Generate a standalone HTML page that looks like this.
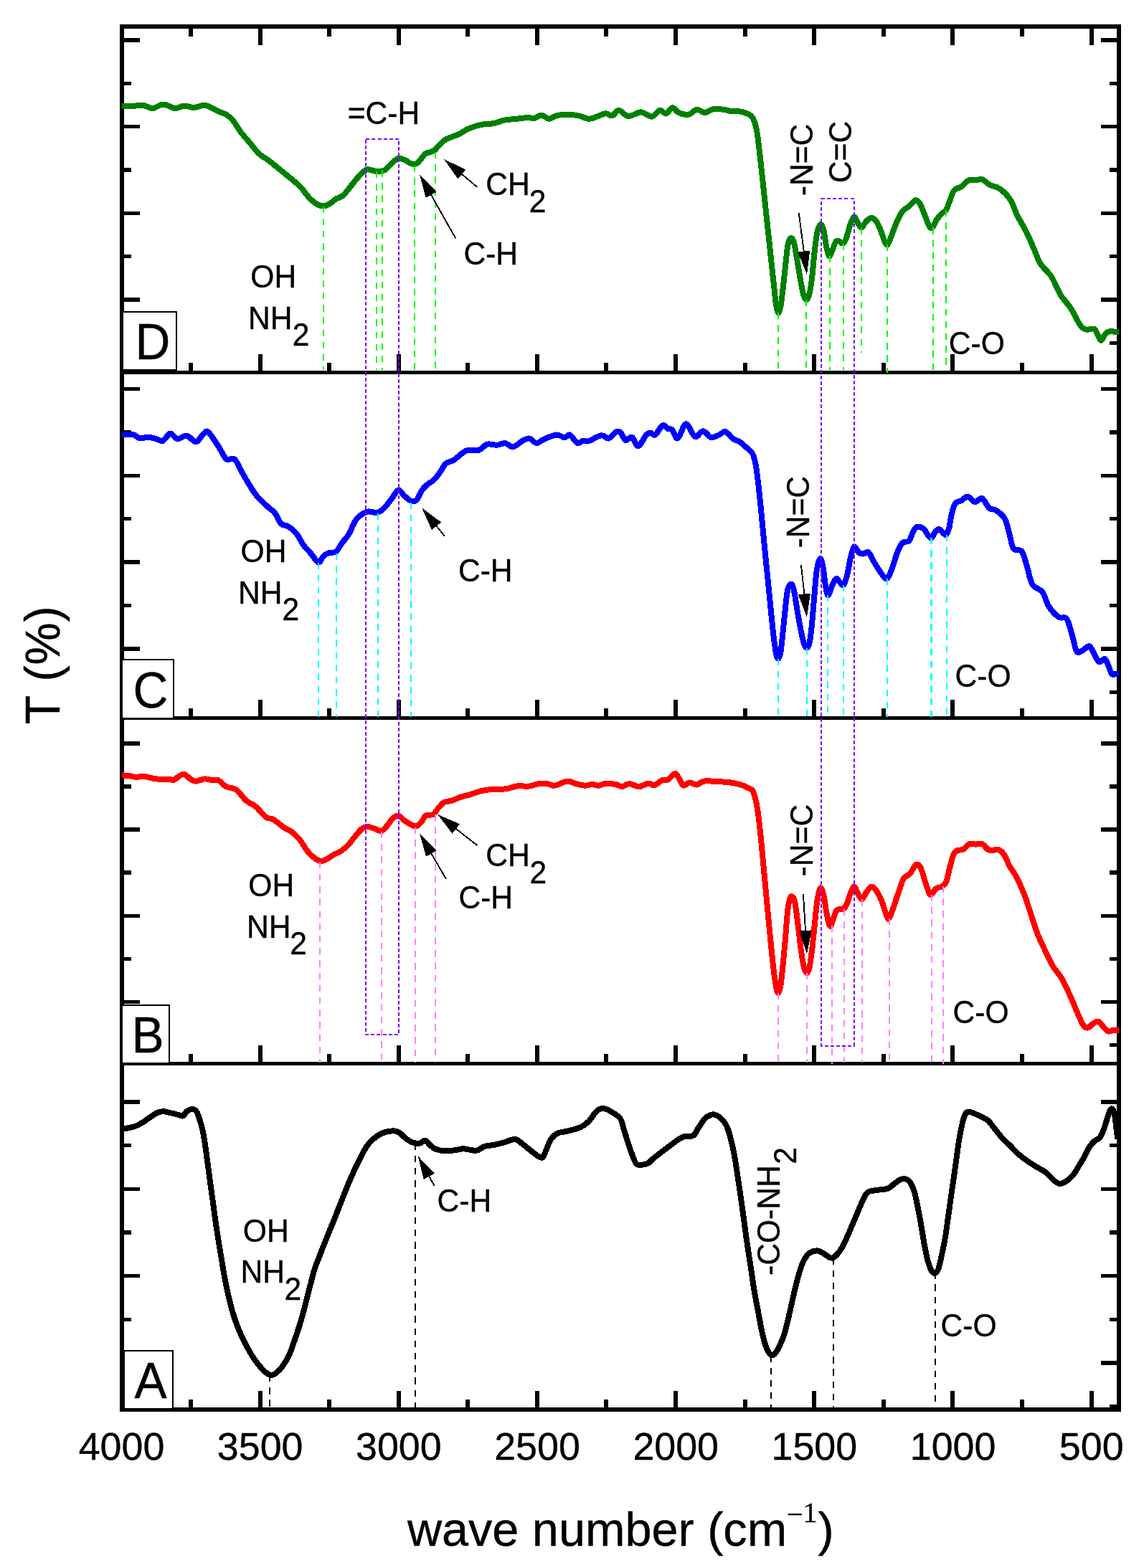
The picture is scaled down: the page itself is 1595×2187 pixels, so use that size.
<!DOCTYPE html>
<html lang="en"><head><meta charset="utf-8"><title>FTIR spectra</title>
<style>html,body{margin:0;padding:0;background:#fff}body{width:1595px;height:2187px;overflow:hidden}svg{display:block}text{font-family:"Liberation Sans",sans-serif;fill:#000}.serif{font-family:"Liberation Serif",serif}</style>
</head><body>
<svg width="1595" height="2187" viewBox="0 0 1595 2187" shape-rendering="crispEdges" role="img" aria-label="FTIR transmittance spectra, panels A to D">
<rect width="1595" height="2187" fill="#fff"/>
<g fill="#000">
<rect x="173" y="53" width="22" height="6"/>
<rect x="1535" y="53" width="22" height="6"/>
<rect x="173" y="114" width="10" height="5"/>
<rect x="1547" y="114" width="10" height="5"/>
<rect x="173" y="174" width="22" height="5"/>
<rect x="1535" y="174" width="22" height="5"/>
<rect x="173" y="234" width="10" height="6"/>
<rect x="1547" y="234" width="10" height="6"/>
<rect x="173" y="295" width="22" height="5"/>
<rect x="1535" y="295" width="22" height="5"/>
<rect x="173" y="355" width="10" height="5"/>
<rect x="1547" y="355" width="10" height="5"/>
<rect x="173" y="415" width="22" height="6"/>
<rect x="1535" y="415" width="22" height="6"/>
<rect x="173" y="476" width="10" height="5"/>
<rect x="1547" y="476" width="10" height="5"/>
<rect x="173" y="540" width="22" height="5"/>
<rect x="1535" y="540" width="22" height="5"/>
<rect x="173" y="600" width="10" height="6"/>
<rect x="1547" y="600" width="10" height="6"/>
<rect x="173" y="661" width="22" height="5"/>
<rect x="1535" y="661" width="22" height="5"/>
<rect x="173" y="721" width="10" height="5"/>
<rect x="1547" y="721" width="10" height="5"/>
<rect x="173" y="781" width="22" height="6"/>
<rect x="1535" y="781" width="22" height="6"/>
<rect x="173" y="842" width="10" height="5"/>
<rect x="1547" y="842" width="10" height="5"/>
<rect x="173" y="902" width="22" height="6"/>
<rect x="1535" y="902" width="22" height="6"/>
<rect x="173" y="963" width="10" height="5"/>
<rect x="1547" y="963" width="10" height="5"/>
<rect x="173" y="1034" width="22" height="6"/>
<rect x="1535" y="1034" width="22" height="6"/>
<rect x="173" y="1094" width="10" height="6"/>
<rect x="1547" y="1094" width="10" height="6"/>
<rect x="173" y="1154" width="22" height="6"/>
<rect x="1535" y="1154" width="22" height="6"/>
<rect x="173" y="1214" width="10" height="6"/>
<rect x="1547" y="1214" width="10" height="6"/>
<rect x="173" y="1275" width="22" height="5"/>
<rect x="1535" y="1275" width="22" height="5"/>
<rect x="173" y="1335" width="10" height="5"/>
<rect x="1547" y="1335" width="10" height="5"/>
<rect x="173" y="1395" width="22" height="5"/>
<rect x="1535" y="1395" width="22" height="5"/>
<rect x="173" y="1455" width="10" height="5"/>
<rect x="1547" y="1455" width="10" height="5"/>
<rect x="173" y="1534" width="22" height="6"/>
<rect x="1535" y="1534" width="22" height="6"/>
<rect x="173" y="1595" width="10" height="5"/>
<rect x="1547" y="1595" width="10" height="5"/>
<rect x="173" y="1656" width="22" height="5"/>
<rect x="1535" y="1656" width="22" height="5"/>
<rect x="173" y="1716" width="10" height="6"/>
<rect x="1547" y="1716" width="10" height="6"/>
<rect x="173" y="1777" width="22" height="5"/>
<rect x="1535" y="1777" width="22" height="5"/>
<rect x="173" y="1838" width="10" height="5"/>
<rect x="1547" y="1838" width="10" height="5"/>
<rect x="173" y="1898" width="22" height="6"/>
<rect x="1535" y="1898" width="22" height="6"/>
<rect x="173" y="1959" width="10" height="6"/>
<rect x="1547" y="1959" width="10" height="6"/>
<rect x="263" y="506" width="6" height="13"/>
<rect x="360" y="494" width="6" height="25"/>
<rect x="456" y="506" width="6" height="13"/>
<rect x="553" y="494" width="6" height="25"/>
<rect x="649" y="506" width="6" height="13"/>
<rect x="746" y="494" width="6" height="25"/>
<rect x="842" y="506" width="6" height="13"/>
<rect x="939" y="494" width="6" height="25"/>
<rect x="1036" y="506" width="6" height="13"/>
<rect x="1132" y="494" width="6" height="25"/>
<rect x="1229" y="506" width="6" height="13"/>
<rect x="1325" y="494" width="6" height="25"/>
<rect x="1422" y="506" width="6" height="13"/>
<rect x="1519" y="494" width="6" height="25"/>
<rect x="263" y="988" width="6" height="13"/>
<rect x="360" y="976" width="6" height="25"/>
<rect x="456" y="988" width="6" height="13"/>
<rect x="553" y="976" width="6" height="25"/>
<rect x="649" y="988" width="6" height="13"/>
<rect x="746" y="976" width="6" height="25"/>
<rect x="842" y="988" width="6" height="13"/>
<rect x="939" y="976" width="6" height="25"/>
<rect x="1036" y="988" width="6" height="13"/>
<rect x="1132" y="976" width="6" height="25"/>
<rect x="1229" y="988" width="6" height="13"/>
<rect x="1325" y="976" width="6" height="25"/>
<rect x="1422" y="988" width="6" height="13"/>
<rect x="1519" y="976" width="6" height="25"/>
<rect x="263" y="1470" width="6" height="13"/>
<rect x="360" y="1458" width="6" height="25"/>
<rect x="456" y="1470" width="6" height="13"/>
<rect x="553" y="1458" width="6" height="25"/>
<rect x="649" y="1470" width="6" height="13"/>
<rect x="746" y="1458" width="6" height="25"/>
<rect x="842" y="1470" width="6" height="13"/>
<rect x="939" y="1458" width="6" height="25"/>
<rect x="1036" y="1470" width="6" height="13"/>
<rect x="1132" y="1458" width="6" height="25"/>
<rect x="1229" y="1470" width="6" height="13"/>
<rect x="1325" y="1458" width="6" height="25"/>
<rect x="1422" y="1470" width="6" height="13"/>
<rect x="1519" y="1458" width="6" height="25"/>
<rect x="263" y="1952" width="6" height="13"/>
<rect x="360" y="1940" width="6" height="25"/>
<rect x="456" y="1952" width="6" height="13"/>
<rect x="553" y="1940" width="6" height="25"/>
<rect x="649" y="1952" width="6" height="13"/>
<rect x="746" y="1940" width="6" height="25"/>
<rect x="842" y="1952" width="6" height="13"/>
<rect x="939" y="1940" width="6" height="25"/>
<rect x="1036" y="1952" width="6" height="13"/>
<rect x="1132" y="1940" width="6" height="25"/>
<rect x="1229" y="1952" width="6" height="13"/>
<rect x="1325" y="1940" width="6" height="25"/>
<rect x="1422" y="1952" width="6" height="13"/>
<rect x="1519" y="1940" width="6" height="25"/>
<rect x="263" y="38" width="6" height="13"/>
<rect x="360" y="38" width="6" height="25"/>
<rect x="456" y="38" width="6" height="13"/>
<rect x="553" y="38" width="6" height="25"/>
<rect x="649" y="38" width="6" height="13"/>
<rect x="746" y="38" width="6" height="25"/>
<rect x="842" y="38" width="6" height="13"/>
<rect x="939" y="38" width="6" height="25"/>
<rect x="1036" y="38" width="6" height="13"/>
<rect x="1132" y="38" width="6" height="25"/>
<rect x="1229" y="38" width="6" height="13"/>
<rect x="1325" y="38" width="6" height="25"/>
<rect x="1422" y="38" width="6" height="13"/>
<rect x="1519" y="38" width="6" height="25"/>
</g>
<g fill="#000">
<rect x="167" y="34" width="6" height="1935"/>
<rect x="1557" y="34" width="6" height="1935"/>
<rect x="167" y="34" width="1396" height="6"/>
<rect x="167" y="1963" width="1396" height="6"/>
<rect x="167" y="517" width="1396" height="5"/>
<rect x="167" y="999" width="1396" height="5"/>
<rect x="167" y="1481" width="1396" height="5"/>
</g>
<g fill="#fff" stroke="#000" stroke-width="1.9">
<rect x="170.95" y="435.05" width="75.06" height="80.9"/>
<rect x="169.85" y="919.75" width="72.1" height="82.2"/>
<rect x="169.95" y="1401.95" width="65.97" height="81.1"/>
<rect x="172.95" y="1883.95" width="67.97" height="81.1"/>
</g>
<rect x="167" y="34" width="4" height="1935" fill="#000"/>
<g fill="none" stroke-linejoin="round" stroke-linecap="butt" stroke-width="8">
<path d="M170 148.1C172.52 148.1 180.28 148.35 185.1 148.1C189.92 147.85 194.3 146.1 198.9 146.6C203.5 147.1 207.9 151.28 212.7 151.1C217.5 150.92 222.48 145.5 227.7 145.5C232.92 145.5 239.18 150.75 244 151.1C248.82 151.45 252.22 147.77 256.6 147.6C260.98 147.43 265.92 150.18 270.3 150.1C274.68 150.02 279.55 147.43 282.9 147.1C286.25 146.77 287.07 146.85 290.4 148.1C293.73 149.35 298.52 152.52 302.9 154.6C307.28 156.68 312.93 158.22 316.7 160.6C320.47 162.98 322.37 165.02 325.5 168.9C328.63 172.78 331.73 178.88 335.5 183.9C339.27 188.92 343.92 193.98 348.1 199C352.28 204.02 356.42 210.03 360.6 214C364.78 217.97 369.02 219.67 373.2 222.8C377.38 225.93 381.53 229.45 385.7 232.8C389.87 236.15 394.02 239.47 398.2 242.9C402.38 246.33 407.03 250.07 410.8 253.4C414.57 256.73 417.47 259.22 420.8 262.9C424.13 266.58 427.45 271.95 430.8 275.5C434.15 279.05 437.55 282.2 440.9 284.2C444.25 286.2 447.77 287.5 450.9 287.5C454.03 287.5 456.77 285.87 459.7 284.2C462.63 282.53 465.37 279.47 468.5 277.5C471.63 275.53 475.17 275.25 478.5 272.4C481.83 269.55 485.15 264.48 488.5 260.4C491.85 256.32 495.05 251.75 498.6 247.9C502.15 244.05 506.88 239.15 509.8 237.3C512.72 235.45 513.38 236.47 516.1 236.8C518.82 237.13 522.75 239.22 526.1 239.3C529.45 239.38 532.85 239.22 536.2 237.3C539.55 235.38 542.98 230.53 546.2 227.8C549.42 225.07 552.28 221.57 555.5 220.9C558.72 220.23 562.92 222.73 565.5 223.8C568.08 224.87 569.15 226.43 571 227.3C572.85 228.17 574.75 229 576.6 229C578.45 229 580.27 228.63 582.1 227.3C583.93 225.97 585.77 223.17 587.6 221C589.43 218.83 591.03 215.8 593.1 214.3C595.17 212.8 597.93 212.72 600 212C602.07 211.28 603.67 211.37 605.5 210C607.33 208.63 609.15 205.75 611 203.8C612.85 201.85 614.75 199.92 616.6 198.3C618.45 196.68 619.58 195.43 622.1 194.1C624.62 192.77 628.55 191.57 631.7 190.3C634.85 189.03 637.47 188.27 641 186.5C644.53 184.73 648 181.78 652.9 179.7C657.8 177.62 664.55 175.25 670.4 174C676.25 172.75 682.57 173.25 688 172.2C693.43 171.15 697.57 168.78 703 167.7C708.43 166.62 715.17 166.28 720.6 165.7C726.03 165.12 731.43 164.37 735.6 164.2C739.77 164.03 742.33 165.28 745.6 164.7C748.87 164.12 751.85 160.53 755.2 160.7C758.55 160.87 761.87 165.7 765.7 165.7C769.53 165.7 771.93 161.53 778.2 160.7C784.47 159.87 796.18 159.87 803.3 160.7C810.42 161.53 815.88 165.45 820.9 165.7C825.92 165.95 829.43 163.45 833.4 162.2C837.37 160.95 841.35 158.33 844.7 158.2C848.05 158.07 850.45 162.12 853.5 161.4C856.55 160.68 859.23 153.77 863 153.9C866.77 154.03 871 161.78 876.1 162.2C881.2 162.62 888.17 156.32 893.6 156.4C899.03 156.48 904.32 163.12 908.7 162.7C913.08 162.28 916.57 154.6 919.9 153.9C923.23 153.2 925.75 159.12 928.7 158.5C931.65 157.88 934.65 150.42 937.6 150.2C940.55 149.98 942.63 155.62 946.4 157.2C950.17 158.78 956.02 160.45 960.2 159.7C964.38 158.95 967.73 153.12 971.5 152.7C975.27 152.28 979.05 157.28 982.8 157.2C986.55 157.12 989.83 152.95 994 152.2C998.17 151.45 1003.82 152.28 1007.8 152.7C1011.78 153.12 1014.13 154.28 1017.9 154.7C1021.67 155.12 1026.23 154.5 1030.4 155.2C1034.57 155.9 1039.77 157.45 1042.9 158.9C1046.03 160.35 1047.43 161.18 1049.2 163.9C1050.97 166.62 1052.25 170.38 1053.5 175.2C1054.75 180.02 1055.53 184.43 1056.7 192.8C1057.87 201.17 1059.23 214.12 1060.5 225.4C1061.77 236.68 1063.05 248.8 1064.3 260.5C1065.55 272.2 1066.75 283.9 1068 295.6C1069.25 307.3 1070.55 319 1071.8 330.7C1073.05 342.4 1074.25 354.1 1075.5 365.8C1076.75 377.5 1078.25 391.28 1079.3 400.9C1080.35 410.52 1080.83 417.63 1081.8 423.5C1082.77 429.37 1083.97 435.68 1085.1 436.1C1086.23 436.52 1087.48 431.87 1088.6 426C1089.72 420.13 1090.63 410.93 1091.8 400.9C1092.97 390.87 1094.47 375.82 1095.6 365.8C1096.73 355.78 1097.43 346.43 1098.6 340.8C1099.77 335.17 1101.22 332.43 1102.6 332C1103.98 331.57 1105.55 333.82 1106.9 338.2C1108.25 342.58 1109.23 349.93 1110.7 358.3C1112.17 366.67 1114.12 379.62 1115.7 388.4C1117.28 397.18 1118.82 406.07 1120.2 411C1121.58 415.93 1122.67 418 1124 418C1125.33 418 1126.87 415.93 1128.2 411C1129.53 406.07 1130.75 398.43 1132 388.4C1133.25 378.37 1134.45 361.67 1135.7 350.8C1136.95 339.93 1138.15 329.47 1139.5 323.2C1140.85 316.93 1142.33 313.62 1143.8 313.2C1145.27 312.78 1146.93 315.68 1148.3 320.7C1149.67 325.72 1150.67 337.23 1152 343.3C1153.33 349.37 1154.83 356.27 1156.3 357.1C1157.77 357.93 1159.42 351.45 1160.8 348.3C1162.18 345.15 1163.27 340.3 1164.6 338.2C1165.93 336.1 1167.13 335.48 1168.8 335.7C1170.47 335.92 1172.8 339.92 1174.6 339.5C1176.4 339.08 1177.93 337.17 1179.6 333.2C1181.27 329.23 1182.8 320.8 1184.6 315.7C1186.4 310.6 1188.52 303.43 1190.4 302.6C1192.28 301.77 1194.15 308.18 1195.9 310.7C1197.65 313.22 1199.02 317.92 1200.9 317.7C1202.78 317.48 1204.9 311.75 1207.2 309.4C1209.5 307.05 1212.18 303.6 1214.7 303.6C1217.22 303.6 1220 306.13 1222.3 309.4C1224.6 312.67 1226.63 318.6 1228.5 323.2C1230.37 327.8 1232.03 333.98 1233.5 337C1234.97 340.02 1235.83 342.35 1237.3 341.3C1238.77 340.25 1240.22 335.8 1242.3 330.7C1244.38 325.6 1247.08 316.75 1249.8 310.7C1252.52 304.65 1255.65 298.25 1258.6 294.4C1261.55 290.55 1264.57 290.12 1267.5 287.6C1270.43 285.08 1273.68 279.87 1276.2 279.3C1278.72 278.73 1280.38 280.68 1282.6 284.2C1284.82 287.72 1287.35 295.18 1289.5 300.4C1291.65 305.62 1293.78 312.67 1295.5 315.5C1297.22 318.33 1297.95 319.08 1299.8 317.4C1301.65 315.72 1304.42 308.65 1306.6 305.4C1308.78 302.15 1310.82 299.98 1312.9 297.9C1314.98 295.82 1317.22 295.83 1319.1 292.9C1320.98 289.97 1322.32 284.9 1324.2 280.3C1326.08 275.7 1327.68 268.63 1330.4 265.3C1333.12 261.97 1337.15 262.6 1340.5 260.3C1343.85 258 1347.17 252.97 1350.5 251.5C1353.83 250.03 1357.37 251.72 1360.5 251.5C1363.63 251.28 1365.95 249.08 1369.3 250.2C1372.65 251.32 1376.63 256.1 1380.6 258.2C1384.57 260.3 1388.5 259.53 1393.1 262.8C1397.7 266.07 1404.02 271.53 1408.2 277.8C1412.38 284.07 1414.45 292.88 1418.2 300.4C1421.95 307.92 1426.93 315.38 1430.7 322.9C1434.47 330.42 1437.45 337.97 1440.8 345.5C1444.15 353.03 1446.63 361.42 1450.8 368.1C1454.97 374.78 1461.2 378.5 1465.8 385.6C1470.4 392.7 1473.8 403.17 1478.4 410.7C1483 418.23 1488.8 423.68 1493.4 430.8C1498 437.92 1502.45 448.6 1506 453.4C1509.55 458.2 1511.37 458.68 1514.7 459.6C1518.03 460.52 1523.28 457.43 1526 458.9C1528.72 460.37 1529.4 465.77 1531 468.4C1532.6 471.03 1533.92 475.12 1535.6 474.7C1537.28 474.28 1539.13 468 1541.1 465.9C1543.07 463.8 1545.25 462.62 1547.4 462.1C1549.55 461.58 1551.9 462.67 1554 462.8C1556.1 462.93 1559 462.88 1560 462.9" stroke="#008000"/>
<path d="M170 606.4C172.52 606.32 180.92 605.07 185.1 605.9C189.28 606.73 191.55 610.77 195.1 611.4C198.65 612.03 202.63 609.57 206.4 609.7C210.17 609.83 214.35 611.28 217.7 612.2C221.05 613.12 224 615.75 226.5 615.2C229 614.65 230.75 610.67 232.7 608.9C234.65 607.13 235.68 604.05 238.2 604.6C240.72 605.15 244.12 611.7 247.8 612.2C251.48 612.7 256.12 606.9 260.3 607.6C264.48 608.3 269.35 616.4 272.9 616.4C276.45 616.4 279.02 610.1 281.6 607.6C284.18 605.1 286.1 601.18 288.4 601.4C290.7 601.62 292.55 605.13 295.4 608.9C298.25 612.67 302.15 618.77 305.5 624C308.85 629.23 311.95 637.58 315.5 640.3C319.05 643.02 323.47 637.8 326.8 640.3C330.13 642.8 332.37 649.87 335.5 655.3C338.63 660.73 341.83 666.83 345.6 672.9C349.37 678.97 353.5 686.07 358.1 691.7C362.7 697.33 369.02 702.73 373.2 706.7C377.38 710.67 380.07 711.53 383.2 715.5C386.33 719.47 388.87 727.37 392 730.5C395.13 733.63 398.45 732 402 734.3C405.55 736.6 409.75 739.92 413.3 744.3C416.85 748.68 419.95 756 423.3 760.6C426.65 765.2 429.97 767.92 433.4 771.9C436.83 775.88 440.98 783.87 443.9 784.5C446.82 785.13 448.48 777.92 450.9 775.7C453.32 773.48 455.47 772.25 458.4 771.2C461.33 770.15 465.37 771.78 468.5 769.4C471.63 767.02 474.28 760.87 477.2 756.9C480.12 752.93 482.87 750.83 486 745.6C489.13 740.37 493.07 730.1 496 725.5C498.93 720.9 500.67 720 503.6 718C506.53 716 509.85 714 513.6 713.5C517.35 713 522.33 715.92 526.1 715C529.87 714.08 532.85 711.27 536.2 708C539.55 704.73 542.98 699.5 546.2 695.4C549.42 691.3 552.57 684.02 555.5 683.4C558.43 682.78 560.73 689.07 563.8 691.7C566.87 694.33 570.97 698.37 573.9 699.2C576.83 700.03 578.9 699.4 581.4 696.7C583.9 694 586.4 686.55 588.9 683C591.4 679.45 593.68 677.7 596.4 675.4C599.12 673.1 602.27 672.12 605.2 669.2C608.13 666.28 611.28 661.67 614 657.9C616.72 654.13 618.37 649.32 621.5 646.6C624.63 643.88 628.83 644.12 632.8 641.6C636.77 639.08 641.95 633.8 645.3 631.5C648.65 629.2 649.13 628.42 652.9 627.8C656.67 627.18 663.52 629.15 667.9 627.8C672.28 626.45 675.02 620.88 679.2 619.7C683.38 618.52 688.82 620.95 693 620.7C697.18 620.45 700.55 617.77 704.3 618.2C708.05 618.63 711.53 623.8 715.5 623.3C719.47 622.8 724.33 617.17 728.1 615.2C731.87 613.23 734.75 611 738.1 611.5C741.45 612 744.85 618 748.2 618.2C751.55 618.4 753.62 614.65 758.2 612.7C762.78 610.75 770.9 606.92 775.7 606.5C780.5 606.08 783.87 610.2 787 610.2C790.13 610.2 791.57 605.25 794.5 606.5C797.43 607.75 801.45 616.33 804.6 617.7C807.75 619.07 810.68 615.12 813.4 614.7C816.12 614.28 816.73 616.45 820.9 615.2C825.07 613.95 833.8 607.82 838.4 607.2C843 606.58 845.15 612.25 848.5 611.5C851.85 610.75 855.78 604.17 858.5 602.7C861.22 601.23 862.5 600.82 864.8 602.7C867.1 604.58 869.58 612.83 872.3 614C875.02 615.17 878.18 608.32 881.1 609.7C884.02 611.08 886.47 622.83 889.8 622.3C893.13 621.77 898.17 609.57 901.1 606.5C904.03 603.43 905.3 603.9 907.4 603.9C909.5 603.9 910.97 608.27 913.7 606.5C916.43 604.73 920.88 594.68 923.8 593.3C926.72 591.92 929 597.2 931.2 598.2C933.4 599.2 934.68 597.1 937 599.3C939.32 601.5 941.87 612.73 945.1 611.4C948.33 610.07 952.42 591.72 956.4 591.3C960.38 590.88 965.02 607.23 969 608.9C972.98 610.57 976.55 601.1 980.3 601.3C984.05 601.5 987.75 609.25 991.5 610.1C995.25 610.95 999.45 607.73 1002.8 606.4C1006.15 605.07 1008.25 601.07 1011.6 602.1C1014.95 603.13 1019.77 610.35 1022.9 612.6C1026.03 614.85 1027.48 613.72 1030.4 615.6C1033.32 617.48 1037.27 621.05 1040.4 623.9C1043.53 626.75 1047.02 628.73 1049.2 632.7C1051.38 636.67 1052.25 641.43 1053.5 647.7C1054.75 653.97 1055.53 660.68 1056.7 670.3C1057.87 679.92 1059.23 692.87 1060.5 705.4C1061.77 717.93 1063.05 732.53 1064.3 745.5C1065.55 758.47 1066.75 770.65 1068 783.2C1069.25 795.75 1070.55 808.27 1071.8 820.8C1073.05 833.33 1074.25 846.28 1075.5 858.4C1076.75 870.52 1078.12 884.3 1079.3 893.5C1080.48 902.7 1081.63 909.42 1082.6 913.6C1083.57 917.78 1084.18 919.02 1085.1 918.6C1086.02 918.18 1087.1 916.53 1088.1 911.1C1089.1 905.67 1090.05 895.62 1091.1 886C1092.15 876.38 1093.23 863.85 1094.4 853.4C1095.57 842.95 1096.73 829.78 1098.1 823.3C1099.47 816.82 1101.13 814.5 1102.6 814.5C1104.07 814.5 1105.35 816.82 1106.9 823.3C1108.45 829.78 1110.23 843.78 1111.9 853.4C1113.57 863.02 1115.35 873.48 1116.9 881C1118.45 888.52 1119.85 894.75 1121.2 898.5C1122.55 902.25 1123.75 903.92 1125 903.5C1126.25 903.08 1127.53 901.43 1128.7 896C1129.87 890.57 1130.92 881.35 1132 870.9C1133.08 860.45 1134.08 845.83 1135.2 833.3C1136.32 820.77 1137.35 804.68 1138.7 795.7C1140.05 786.72 1141.92 780.65 1143.3 779.4C1144.68 778.15 1145.75 782.13 1147 788.2C1148.25 794.27 1149.55 808.78 1150.8 815.8C1152.05 822.82 1153.03 829.88 1154.5 830.3C1155.97 830.72 1157.72 822.18 1159.6 818.3C1161.48 814.42 1163.93 808.05 1165.8 807C1167.67 805.95 1169.12 810.53 1170.8 812C1172.48 813.47 1174.22 817.27 1175.9 815.8C1177.58 814.33 1179.23 809.47 1180.9 803.2C1182.57 796.93 1184.23 784.97 1185.9 778.2C1187.57 771.43 1189.02 763.87 1190.9 762.6C1192.78 761.33 1195.12 768.93 1197.2 770.6C1199.28 772.27 1201.1 772.6 1203.4 772.6C1205.7 772.6 1208.28 768.42 1211 770.6C1213.72 772.78 1216.78 780.88 1219.7 785.7C1222.62 790.52 1225.68 795.95 1228.5 799.5C1231.32 803.05 1234.08 808.05 1236.6 807C1239.12 805.95 1241.18 799.27 1243.6 793.2C1246.02 787.13 1248.6 776.67 1251.1 770.6C1253.6 764.53 1255.88 759.52 1258.6 756.8C1261.32 754.08 1264.88 757.02 1267.4 754.3C1269.92 751.58 1271.77 743.77 1273.7 740.5C1275.63 737.23 1276.65 735.17 1279 734.7C1281.35 734.23 1284.67 735.02 1287.8 737.7C1290.93 740.38 1295.08 750.17 1297.8 750.8C1300.52 751.43 1302.08 743.6 1304.1 741.5C1306.12 739.4 1307.6 737.48 1309.9 738.2C1312.2 738.92 1315.73 745.88 1317.9 745.8C1320.07 745.72 1321.43 742.38 1322.9 737.7C1324.37 733.02 1325.23 723.55 1326.7 717.7C1328.17 711.85 1329.4 705.87 1331.7 702.6C1334 699.33 1337.58 699.77 1340.5 698.1C1343.42 696.43 1346.07 692.27 1349.2 692.6C1352.33 692.93 1355.95 699.68 1359.3 700.1C1362.65 700.52 1365.97 693.63 1369.3 695.1C1372.63 696.57 1376.17 706.18 1379.3 708.9C1382.43 711.62 1384.55 709.1 1388.1 711.4C1391.65 713.7 1397.47 717.47 1400.6 722.7C1403.73 727.93 1404.8 735.7 1406.9 742.8C1409 749.9 1410.27 760.92 1413.2 765.3C1416.13 769.68 1421.37 764.92 1424.5 769.1C1427.63 773.28 1429.5 782.67 1432 790.4C1434.5 798.13 1435.95 809.65 1439.5 815.5C1443.05 821.35 1449.53 820.48 1453.3 825.5C1457.07 830.52 1458.33 839.75 1462.1 845.6C1465.87 851.45 1471.72 857.68 1475.9 860.6C1480.08 863.52 1484.07 858.92 1487.2 863.1C1490.33 867.28 1492.4 878.17 1494.7 885.7C1497 893.23 1498.7 904.62 1501 908.3C1503.3 911.98 1505.58 908.97 1508.5 907.8C1511.42 906.63 1515.78 900.8 1518.5 901.3C1521.22 901.8 1522.5 907.13 1524.8 910.8C1527.1 914.47 1529.58 921.83 1532.3 923.3C1535.02 924.77 1538.17 916.88 1541.1 919.6C1544.03 922.32 1547.58 936.27 1549.9 939.6C1552.22 942.93 1553.32 939.6 1555 939.6C1556.68 939.6 1559.17 939.6 1560 939.6" stroke="#0000ff"/>
<path d="M170 1081.4C171.68 1081.52 176.75 1081.68 180.1 1082.1C183.45 1082.52 186.77 1083.82 190.1 1083.9C193.43 1083.98 196.33 1082.32 200.1 1082.6C203.87 1082.88 208.52 1084.85 212.7 1085.6C216.88 1086.35 221.45 1086.85 225.2 1087.1C228.95 1087.35 232.27 1087.02 235.2 1087.1C238.13 1087.18 240.28 1088.43 242.8 1087.6C245.32 1086.77 247.88 1083.35 250.3 1082.1C252.72 1080.85 254.8 1079.38 257.3 1080.1C259.8 1080.82 262.7 1084.8 265.3 1086.4C267.9 1088 269.55 1089.7 272.9 1089.7C276.25 1089.7 281.65 1086.65 285.4 1086.4C289.15 1086.15 292.27 1087.9 295.4 1088.2C298.53 1088.5 300.85 1086.7 304.2 1088.2C307.55 1089.7 311.32 1095 315.5 1097.2C319.68 1099.4 324.7 1098.18 329.3 1101.4C333.9 1104.62 338.5 1112.52 343.1 1116.5C347.7 1120.48 352.3 1121.42 356.9 1125.3C361.5 1129.18 366.73 1136.88 370.7 1139.8C374.67 1142.72 376.53 1140.42 380.7 1142.8C384.87 1145.18 391.32 1151.17 395.7 1154.1C400.08 1157.03 403.23 1157.47 407 1160.4C410.77 1163.33 414.75 1167.32 418.3 1171.7C421.85 1176.08 424.95 1182.53 428.3 1186.7C431.65 1190.87 435.27 1194.32 438.4 1196.7C441.53 1199.08 444.18 1200.78 447.1 1201C450.02 1201.22 452.75 1199.55 455.9 1198C459.05 1196.45 462.65 1193.58 466 1191.7C469.35 1189.82 472.67 1189 476 1186.7C479.33 1184.4 482.67 1181.45 486 1177.9C489.33 1174.35 492.87 1169.07 496 1165.4C499.13 1161.73 502.07 1157.98 504.8 1155.9C507.53 1153.82 509.68 1152.98 512.4 1152.9C515.12 1152.82 517.97 1154.37 521.1 1155.4C524.23 1156.43 528.27 1159.52 531.2 1159.1C534.13 1158.68 535.98 1155.82 538.7 1152.9C541.42 1149.98 544.7 1144.1 547.5 1141.6C550.3 1139.1 552.57 1137.27 555.5 1137.9C558.43 1138.53 561.2 1142.98 565.1 1145.4C569 1147.82 575.35 1151.98 578.9 1152.4C582.45 1152.82 583.9 1150.4 586.4 1147.9C588.9 1145.4 590.97 1139.4 593.9 1137.4C596.83 1135.4 601.07 1137.7 604 1135.9C606.93 1134.1 609 1129.4 611.5 1126.6C614 1123.8 615.87 1120.77 619 1119.1C622.13 1117.43 626.33 1117.87 630.3 1116.6C634.27 1115.33 638.62 1112.88 642.8 1111.5C646.98 1110.12 650.8 1109.67 655.4 1108.3C660 1106.93 664.97 1104.55 670.4 1103.3C675.83 1102.05 682.15 1101.3 688 1100.8C693.85 1100.3 700.07 1101.02 705.5 1100.3C710.93 1099.58 715.17 1097.13 720.6 1096.5C726.03 1095.87 733.08 1097.05 738.1 1096.5C743.12 1095.95 746.52 1093.75 750.7 1093.2C754.88 1092.65 759.45 1092.78 763.2 1093.2C766.95 1093.62 768.6 1096.28 773.2 1095.7C777.8 1095.12 785.78 1090.12 790.8 1089.7C795.82 1089.28 799.12 1092.2 803.3 1093.2C807.48 1094.2 812.13 1095.57 815.9 1095.7C819.67 1095.83 822.77 1094 825.9 1094C829.03 1094 831.78 1095.83 834.7 1095.7C837.62 1095.57 839.43 1093.48 843.4 1093.2C847.37 1092.92 854.52 1093.33 858.5 1094C862.48 1094.67 864.17 1097.33 867.3 1097.2C870.43 1097.07 873.33 1093.2 877.3 1093.2C881.27 1093.2 886.72 1097.28 891.1 1097.2C895.48 1097.12 900.05 1093.03 903.6 1092.7C907.15 1092.37 909.23 1095.88 912.4 1095.2C915.57 1094.52 919.45 1089.87 922.6 1088.6C925.75 1087.33 928.25 1089.23 931.3 1087.6C934.35 1085.97 938.38 1079.22 940.9 1078.8C943.42 1078.38 944.43 1082.3 946.4 1085.1C948.37 1087.9 950.2 1094.55 952.7 1095.6C955.2 1096.65 958.27 1091.57 961.4 1091.4C964.53 1091.23 968.15 1094.9 971.5 1094.6C974.85 1094.3 976.7 1090.35 981.5 1089.6C986.3 1088.85 994.23 1089.8 1000.3 1090.1C1006.37 1090.4 1012.47 1090.65 1017.9 1091.4C1023.33 1092.15 1028.73 1093.35 1032.9 1094.6C1037.07 1095.85 1040.18 1097.55 1042.9 1098.9C1045.62 1100.25 1047.43 1099.98 1049.2 1102.7C1050.97 1105.42 1052.25 1110.18 1053.5 1115.2C1054.75 1120.22 1055.53 1124.43 1056.7 1132.8C1057.87 1141.17 1059.23 1153.28 1060.5 1165.4C1061.77 1177.52 1063.05 1192.13 1064.3 1205.5C1065.55 1218.87 1066.75 1232.23 1068 1245.6C1069.25 1258.97 1070.55 1272.73 1071.8 1285.7C1073.05 1298.67 1074.25 1311.27 1075.5 1323.4C1076.75 1335.53 1078.12 1349.32 1079.3 1358.5C1080.48 1367.68 1081.63 1374.12 1082.6 1378.5C1083.57 1382.88 1084.18 1385.22 1085.1 1384.8C1086.02 1384.38 1087.1 1381.65 1088.1 1376C1089.1 1370.35 1090.05 1360.93 1091.1 1350.9C1092.15 1340.87 1093.23 1329.17 1094.4 1315.8C1095.57 1302.43 1096.93 1281.15 1098.1 1270.7C1099.27 1260.25 1100.35 1256.45 1101.4 1253.1C1102.45 1249.75 1103.27 1249.77 1104.4 1250.6C1105.53 1251.43 1106.82 1251.4 1108.2 1258.1C1109.58 1264.8 1111.25 1279.5 1112.7 1290.8C1114.15 1302.1 1115.57 1316.3 1116.9 1325.9C1118.23 1335.5 1119.35 1343.18 1120.7 1348.4C1122.05 1353.62 1123.67 1357.2 1125 1357.2C1126.33 1357.2 1127.53 1353.62 1128.7 1348.4C1129.87 1343.18 1130.83 1335.5 1132 1325.9C1133.17 1316.3 1134.45 1302.52 1135.7 1290.8C1136.95 1279.08 1138.15 1264.3 1139.5 1255.6C1140.85 1246.9 1142.33 1239.85 1143.8 1238.6C1145.27 1237.35 1146.93 1242.75 1148.3 1248.1C1149.67 1253.45 1150.75 1264.02 1152 1270.7C1153.25 1277.38 1154.75 1284.77 1155.8 1288.2C1156.85 1291.63 1157.25 1292.55 1158.3 1291.3C1159.35 1290.05 1160.85 1284.13 1162.1 1280.7C1163.35 1277.27 1164.43 1272.87 1165.8 1270.7C1167.17 1268.53 1168.62 1268.2 1170.3 1267.7C1171.98 1267.2 1174.13 1268.87 1175.9 1267.7C1177.67 1266.53 1179.23 1264.38 1180.9 1260.7C1182.57 1257.02 1184.23 1249.58 1185.9 1245.6C1187.57 1241.62 1189.23 1236.8 1190.9 1236.8C1192.57 1236.8 1194.1 1242.67 1195.9 1245.6C1197.7 1248.53 1199.82 1254.4 1201.7 1254.4C1203.58 1254.4 1205.03 1248.53 1207.2 1245.6C1209.37 1242.67 1212.18 1237.22 1214.7 1236.8C1217.22 1236.38 1219.78 1239.55 1222.3 1243.1C1224.82 1246.65 1227.52 1252.45 1229.8 1258.1C1232.08 1263.75 1234.42 1273.15 1236 1277C1237.58 1280.85 1237.83 1282.67 1239.3 1281.2C1240.77 1279.73 1242.62 1274.13 1244.8 1268.2C1246.98 1262.27 1249.88 1252.72 1252.4 1245.6C1254.92 1238.48 1257.18 1230.02 1259.9 1225.5C1262.62 1220.98 1265.78 1221.75 1268.7 1218.5C1271.62 1215.25 1274.9 1207.33 1277.4 1206C1279.9 1204.67 1281.6 1206.5 1283.7 1210.5C1285.8 1214.5 1288.07 1224.2 1290 1230C1291.93 1235.8 1293.87 1242.33 1295.3 1245.3C1296.73 1248.27 1296.93 1248.83 1298.6 1247.8C1300.27 1246.77 1302.92 1240.97 1305.3 1239.1C1307.68 1237.23 1310.6 1238.07 1312.9 1236.6C1315.2 1235.13 1317.22 1234.7 1319.1 1230.3C1320.98 1225.9 1322.52 1216.47 1324.2 1210.2C1325.88 1203.93 1327.53 1196.67 1329.2 1192.7C1330.87 1188.73 1331.9 1187.75 1334.2 1186.4C1336.5 1185.05 1340.08 1186.15 1343 1184.6C1345.92 1183.05 1348.78 1178.27 1351.7 1177.1C1354.62 1175.93 1357.57 1177.6 1360.5 1177.6C1363.43 1177.6 1366.17 1175.72 1369.3 1177.1C1372.43 1178.48 1375.53 1184.57 1379.3 1185.9C1383.07 1187.23 1388.55 1184.18 1391.9 1185.1C1395.25 1186.02 1396.68 1187.42 1399.4 1191.4C1402.12 1195.38 1405.28 1203.77 1408.2 1209C1411.12 1214.23 1413.57 1216.33 1416.9 1222.8C1420.23 1229.27 1425.05 1239.87 1428.2 1247.8C1431.35 1255.73 1432.87 1261.62 1435.8 1270.4C1438.73 1279.18 1442.47 1291.72 1445.8 1300.5C1449.13 1309.28 1452.03 1315.15 1455.8 1323.1C1459.57 1331.05 1464.22 1341.1 1468.4 1348.2C1472.58 1355.3 1476.73 1358.4 1480.9 1365.7C1485.07 1373 1489.63 1383.63 1493.4 1392C1497.17 1400.37 1500.57 1409.42 1503.5 1415.9C1506.43 1422.38 1508.7 1427.98 1511 1430.9C1513.3 1433.82 1515 1434.03 1517.3 1433.4C1519.6 1432.77 1522.5 1428.57 1524.8 1427.1C1527.1 1425.63 1529.02 1423.97 1531.1 1424.6C1533.18 1425.23 1535.02 1428.6 1537.3 1430.9C1539.58 1433.2 1542.5 1437.35 1544.8 1438.4C1547.1 1439.45 1549.4 1437.4 1551.1 1437.2C1552.8 1437 1553.52 1437.2 1555 1437.2C1556.48 1437.2 1559.17 1437.2 1560 1437.2" stroke="#ff0000"/>
<path d="M170 1574C171.68 1573.87 176.75 1573.83 180.1 1573.2C183.45 1572.57 186.77 1571.62 190.1 1570.2C193.43 1568.78 196.75 1566.78 200.1 1564.7C203.45 1562.62 207.07 1559.78 210.2 1557.7C213.33 1555.62 215.98 1553.45 218.9 1552.2C221.82 1550.95 224.57 1550.2 227.7 1550.2C230.83 1550.2 234.35 1551.45 237.7 1552.2C241.05 1552.95 244.87 1554 247.8 1554.7C250.73 1555.4 253.22 1557.15 255.3 1556.4C257.38 1555.65 258.42 1551.75 260.3 1550.2C262.18 1548.65 264.5 1547.32 266.6 1547.1C268.7 1546.88 271.23 1547.35 272.9 1548.9C274.57 1550.45 275.15 1552.43 276.6 1556.4C278.05 1560.37 280.13 1566.63 281.6 1572.7C283.07 1578.77 284.13 1584.85 285.4 1592.8C286.67 1600.75 287.95 1611.2 289.2 1620.4C290.45 1629.6 291.65 1638.82 292.9 1648C294.15 1657.18 295.45 1666.32 296.7 1675.5C297.95 1684.68 299.15 1694.32 300.4 1703.1C301.65 1711.88 302.93 1720.25 304.2 1728.2C305.47 1736.15 306.75 1743.27 308 1750.8C309.25 1758.33 310.45 1766.3 311.7 1773.4C312.95 1780.5 314.18 1786.97 315.5 1793.4C316.82 1799.83 317.93 1805.23 319.6 1812C321.27 1818.77 323.18 1826.67 325.5 1834C327.82 1841.33 330.43 1848.7 333.5 1856C336.57 1863.3 340.28 1871.03 343.9 1877.8C347.52 1884.57 351.63 1891.37 355.2 1896.6C358.77 1901.83 362.17 1905.85 365.3 1909.2C368.43 1912.55 371.7 1915.25 374 1916.7C376.3 1918.15 377.22 1918.2 379.1 1917.9C380.98 1917.6 382.8 1916.98 385.3 1914.9C387.8 1912.82 391.17 1909.5 394.1 1905.4C397.03 1901.3 400.18 1896.15 402.9 1890.3C405.62 1884.45 407.9 1877.4 410.4 1870.3C412.9 1863.2 415.47 1855.65 417.9 1847.7C420.33 1839.75 422.73 1831.05 425 1822.6C427.27 1814.15 429.27 1805.63 431.5 1797C433.73 1788.37 436 1778.5 438.4 1770.8C440.8 1763.1 442.98 1758.32 445.9 1750.8C448.82 1743.28 452.55 1734.07 455.9 1725.7C459.25 1717.33 462.65 1708.97 466 1700.6C469.35 1692.23 472.67 1683.85 476 1675.5C479.33 1667.15 482.87 1658.02 486 1650.5C489.13 1642.98 492.08 1636.25 494.8 1630.4C497.52 1624.55 499.58 1620.62 502.3 1615.4C505.02 1610.18 508.38 1603.28 511.1 1599.1C513.82 1594.92 515.67 1593.02 518.6 1590.3C521.53 1587.58 525.35 1584.75 528.7 1582.8C532.05 1580.85 535.15 1579.48 538.7 1578.6C542.25 1577.72 546.85 1577.22 550 1577.5C553.15 1577.78 555.08 1578.67 557.6 1580.3C560.12 1581.93 562.18 1585.13 565.1 1587.3C568.02 1589.47 571.77 1592.05 575.1 1593.3C578.43 1594.55 582.17 1595.22 585.1 1594.8C588.03 1594.38 590.18 1590.3 592.7 1590.8C595.22 1591.3 597.7 1595.8 600.2 1597.8C602.7 1599.8 604.35 1601.55 607.7 1602.8C611.05 1604.05 615.7 1605.08 620.3 1605.3C624.9 1605.52 630.92 1604.6 635.3 1604.1C639.68 1603.6 641.8 1602.18 646.6 1602.3C651.4 1602.42 659.3 1605.33 664.1 1604.8C668.9 1604.27 671 1600.47 675.4 1599.1C679.8 1597.73 685.9 1597.57 690.5 1596.6C695.1 1595.63 698.4 1594.57 703 1593.3C707.6 1592.03 713.92 1588.67 718.1 1589C722.28 1589.33 724.35 1592.58 728.1 1595.3C731.85 1598.02 736.83 1602.37 740.6 1605.3C744.37 1608.23 747.98 1611.43 750.7 1612.9C753.42 1614.37 755.03 1615.78 756.9 1614.1C758.77 1612.42 760.02 1606.98 761.9 1602.8C763.78 1598.62 765.68 1592.67 768.2 1589C770.72 1585.33 773.65 1582.6 777 1580.8C780.35 1579 784.33 1579.13 788.3 1578.2C792.27 1577.27 797.05 1576.32 800.8 1575.2C804.55 1574.08 807.45 1573.38 810.8 1571.5C814.15 1569.62 817.97 1566.83 820.9 1563.9C823.83 1560.97 825.9 1556.7 828.4 1553.9C830.9 1551.1 833.4 1548.35 835.9 1547.1C838.4 1545.85 840.47 1545.68 843.4 1546.4C846.33 1547.12 849.93 1549.1 853.5 1551.4C857.07 1553.7 862.08 1556.23 864.8 1560.2C867.52 1564.17 867.92 1569.35 869.8 1575.2C871.68 1581.05 874.02 1589.02 876.1 1595.3C878.18 1601.58 880.43 1608.22 882.3 1612.9C884.17 1617.58 885.42 1621.4 887.3 1623.4C889.18 1625.4 890.88 1625.07 893.6 1624.9C896.32 1624.73 900.87 1623.78 903.6 1622.4C906.33 1621.02 906.83 1619.23 910 1616.6C913.17 1613.97 918.42 1609.82 922.6 1606.6C926.78 1603.38 931.35 1600.1 935.1 1597.3C938.85 1594.5 941.75 1591.88 945.1 1589.8C948.45 1587.72 951.63 1585.77 955.2 1584.8C958.77 1583.83 963.37 1586.02 966.5 1584C969.63 1581.98 971.28 1576.67 974 1572.7C976.72 1568.73 980.08 1563.12 982.8 1560.2C985.52 1557.28 988 1556.12 990.3 1555.2C992.6 1554.28 994.3 1554.08 996.6 1554.7C998.9 1555.32 1001.6 1556.73 1004.1 1558.9C1006.6 1561.07 1009.52 1564.13 1011.6 1567.7C1013.68 1571.27 1014.93 1574.87 1016.6 1580.3C1018.27 1585.73 1020.13 1593.62 1021.6 1600.3C1023.07 1606.98 1024.13 1612.87 1025.4 1620.4C1026.67 1627.93 1027.95 1637.15 1029.2 1645.5C1030.45 1653.85 1031.65 1661.73 1032.9 1670.5C1034.15 1679.27 1035.45 1688.9 1036.7 1698.1C1037.95 1707.3 1039.15 1716.92 1040.4 1725.7C1041.65 1734.48 1042.93 1742.43 1044.2 1750.8C1045.47 1759.17 1046.75 1767.55 1048 1775.9C1049.25 1784.25 1050.33 1792.72 1051.7 1800.9C1053.07 1809.08 1054.38 1815.4 1056.2 1825C1058.02 1834.6 1060.67 1849.68 1062.6 1858.5C1064.53 1867.32 1066.1 1873 1067.8 1877.9C1069.5 1882.8 1071.33 1885.82 1072.8 1887.9C1074.27 1889.98 1075.13 1890.62 1076.6 1890.4C1078.07 1890.18 1079.73 1889.1 1081.6 1886.6C1083.47 1884.1 1085.7 1880.08 1087.8 1875.4C1089.9 1870.72 1092.2 1865.07 1094.2 1858.5C1096.2 1851.93 1097.97 1843.75 1099.8 1836C1101.63 1828.25 1103.53 1819.33 1105.2 1812C1106.87 1804.67 1108.05 1798.87 1109.8 1792C1111.55 1785.13 1113.68 1776.83 1115.7 1770.8C1117.72 1764.77 1119.6 1759.77 1121.9 1755.8C1124.2 1751.83 1126.57 1748.88 1129.5 1747C1132.43 1745.12 1136.37 1744.28 1139.5 1744.5C1142.63 1744.72 1145.58 1746.83 1148.3 1748.3C1151.02 1749.77 1153.72 1752.27 1155.8 1753.3C1157.88 1754.33 1158.92 1755.13 1160.8 1754.5C1162.68 1753.87 1165 1751.78 1167.1 1749.5C1169.2 1747.22 1171.1 1744.77 1173.4 1740.8C1175.7 1736.83 1178.4 1731.13 1180.9 1725.7C1183.4 1720.27 1185.9 1714.05 1188.4 1708.2C1190.9 1702.35 1193.4 1696.47 1195.9 1690.6C1198.4 1684.73 1201.1 1677.6 1203.4 1673C1205.7 1668.4 1207.18 1665.08 1209.7 1663C1212.22 1660.92 1215.37 1661.13 1218.5 1660.5C1221.63 1659.87 1225.15 1659.7 1228.5 1659.2C1231.85 1658.7 1235.43 1658.95 1238.6 1657.5C1241.77 1656.05 1244.67 1652.55 1247.5 1650.5C1250.33 1648.45 1253.02 1646.18 1255.6 1645.2C1258.18 1644.22 1260.7 1643.83 1263 1644.6C1265.3 1645.37 1267.4 1646.73 1269.4 1649.8C1271.4 1652.87 1273.23 1657.03 1275 1663C1276.77 1668.97 1278.33 1677.23 1280 1685.6C1281.67 1693.97 1283.5 1704.63 1285 1713.2C1286.5 1721.77 1287.63 1729.7 1289 1737C1290.37 1744.3 1291.67 1751.25 1293.2 1757C1294.73 1762.75 1296.52 1768.35 1298.2 1771.5C1299.88 1774.65 1301.6 1776.22 1303.3 1775.9C1305 1775.58 1306.8 1773.78 1308.4 1769.6C1310 1765.42 1311.32 1758.12 1312.9 1750.8C1314.48 1743.48 1316.23 1735.73 1317.9 1725.7C1319.57 1715.67 1321.23 1702.3 1322.9 1690.6C1324.57 1678.9 1326.23 1667.2 1327.9 1655.5C1329.57 1643.8 1331.43 1630.85 1332.9 1620.4C1334.37 1609.95 1335.43 1600.75 1336.7 1592.8C1337.97 1584.85 1339.25 1578.55 1340.5 1572.7C1341.75 1566.85 1342.95 1561.25 1344.2 1557.7C1345.45 1554.15 1346.33 1552.45 1348 1551.4C1349.67 1550.35 1351.28 1550.57 1354.2 1551.4C1357.12 1552.23 1361.73 1554.6 1365.5 1556.4C1369.27 1558.2 1373.45 1559.48 1376.8 1562.2C1380.15 1564.92 1382.47 1568.85 1385.6 1572.7C1388.73 1576.55 1391.83 1581.12 1395.6 1585.3C1399.37 1589.48 1404.02 1593.63 1408.2 1597.8C1412.38 1601.97 1416.53 1606.62 1420.7 1610.3C1424.87 1613.98 1429.02 1616.97 1433.2 1619.9C1437.38 1622.83 1441.62 1625.32 1445.8 1627.9C1449.98 1630.48 1454.53 1632.47 1458.3 1635.4C1462.07 1638.33 1465.27 1642.9 1468.4 1645.5C1471.53 1648.1 1474.18 1650.58 1477.1 1651C1480.02 1651.42 1482.77 1649.97 1485.9 1648C1489.03 1646.03 1492.77 1642.97 1495.9 1639.2C1499.03 1635.43 1501.98 1629.78 1504.7 1625.4C1507.42 1621.02 1509.9 1617.08 1512.2 1612.9C1514.5 1608.72 1516.2 1603.87 1518.5 1600.3C1520.8 1596.73 1523.48 1593.8 1526 1591.5C1528.52 1589.2 1531.3 1589.63 1533.6 1586.5C1535.9 1583.37 1537.87 1577.92 1539.8 1572.7C1541.73 1567.48 1543.73 1559.43 1545.2 1555.2C1546.67 1550.97 1547.53 1548.62 1548.6 1547.3C1549.67 1545.98 1550.67 1545.85 1551.6 1547.3C1552.53 1548.75 1553.37 1551.38 1554.2 1556C1555.03 1560.62 1555.93 1569.5 1556.6 1575C1557.27 1580.5 1557.93 1586.67 1558.2 1589" stroke="#000000" stroke-width="8.0"/>
</g>
<g stroke="#00ff00" stroke-width="2.2" stroke-dasharray="9.4 7.8" fill="none">
<line x1="450.9" y1="287.5" x2="450.9" y2="516"/>
<line x1="524.9" y1="239" x2="524.9" y2="516"/>
<line x1="533.2" y1="238" x2="533.2" y2="516"/>
<line x1="577.6" y1="231" x2="577.6" y2="516"/>
<line x1="607" y1="212" x2="607" y2="516"/>
<line x1="1085.1" y1="436" x2="1085.1" y2="516"/>
<line x1="1124" y1="418" x2="1124" y2="516"/>
<line x1="1156.8" y1="357" x2="1156.8" y2="516"/>
<line x1="1175.9" y1="339.5" x2="1175.9" y2="516"/>
<line x1="1200.9" y1="317.7" x2="1200.9" y2="492"/>
<line x1="1236.9" y1="340.5" x2="1236.9" y2="520"/>
<line x1="1301.1" y1="317.4" x2="1301.1" y2="516"/>
<line x1="1319.1" y1="293" x2="1319.1" y2="511"/>
</g>
<g stroke="#00ffff" stroke-width="2.2" stroke-dasharray="9.4 7.8" fill="none">
<line x1="443.9" y1="784.5" x2="443.9" y2="1000"/>
<line x1="469" y1="772" x2="469" y2="1000"/>
<line x1="526.6" y1="715.5" x2="526.6" y2="1000"/>
<line x1="573.1" y1="700.5" x2="573.1" y2="1000"/>
<line x1="1085.1" y1="918.6" x2="1085.1" y2="1000"/>
<line x1="1125" y1="903.5" x2="1125" y2="1000"/>
<line x1="1154" y1="830" x2="1154" y2="1000"/>
<line x1="1175.9" y1="816" x2="1175.9" y2="1000"/>
<line x1="1236.8" y1="807" x2="1236.8" y2="1000"/>
<line x1="1298.4" y1="750" x2="1298.4" y2="1000"/>
<line x1="1319.6" y1="746" x2="1319.6" y2="1000"/>
</g>
<g stroke="#ff80ff" stroke-width="2.2" stroke-dasharray="9.4 7.8" fill="none">
<line x1="446" y1="1201.8" x2="446" y2="1482"/>
<line x1="532" y1="1160" x2="532" y2="1478"/>
<line x1="578.8" y1="1154" x2="578.8" y2="1482"/>
<line x1="607" y1="1136" x2="607" y2="1482"/>
<line x1="1085.1" y1="1385" x2="1085.1" y2="1482"/>
<line x1="1125" y1="1357" x2="1125" y2="1482"/>
<line x1="1160" y1="1291" x2="1160" y2="1484"/>
<line x1="1177" y1="1268" x2="1177" y2="1482"/>
<line x1="1202" y1="1254.4" x2="1202" y2="1482"/>
<line x1="1239.9" y1="1281" x2="1239.9" y2="1478"/>
<line x1="1299.1" y1="1248" x2="1299.1" y2="1482"/>
<line x1="1315" y1="1236" x2="1315" y2="1484"/>
</g>
<g stroke="#000000" stroke-width="2.2" stroke-dasharray="9.4 7.8" fill="none">
<line x1="376" y1="1918" x2="376" y2="1964"/>
<line x1="578.9" y1="1594.5" x2="578.9" y2="1964"/>
<line x1="1074.8" y1="1890.4" x2="1074.8" y2="1964"/>
<line x1="1162.3" y1="1754.5" x2="1162.3" y2="1964"/>
<line x1="1304" y1="1774.2" x2="1304" y2="1955"/>
</g>
<g stroke="#8000ff" stroke-width="2.1" stroke-dasharray="5 3.1" fill="none">
<rect x="510.3" y="194.3" width="45.9" height="1248.7"/>
<rect x="1145" y="277.3" width="46" height="1181.4"/>
</g>
<g>
<line x1="665.4" y1="261" x2="643.91" y2="242.98" stroke="#000" stroke-width="1.9"/><polygon points="619,222.1 649.37,236.47 638.44,249.49" fill="#000"/>
<line x1="635.3" y1="332.5" x2="601.05" y2="271.72" stroke="#000" stroke-width="1.9"/><polygon points="585.1,243.4 608.46,267.54 593.65,275.89" fill="#000"/>
<line x1="1113.7" y1="296.9" x2="1120.77" y2="350.68" stroke="#000" stroke-width="1.9"/><polygon points="1125,382.9 1112.34,351.78 1129.19,349.57" fill="#000"/>
<line x1="619.7" y1="747.6" x2="608.59" y2="733.81" stroke="#000" stroke-width="1.9"/><polygon points="588.2,708.5 615.21,728.48 601.97,739.14" fill="#000"/>
<line x1="1116.9" y1="788.2" x2="1121.4" y2="828.6" stroke="#000" stroke-width="1.9"/><polygon points="1125,860.9 1112.95,829.54 1129.85,827.66" fill="#000"/>
<line x1="665.4" y1="1179.2" x2="635.77" y2="1155.96" stroke="#000" stroke-width="1.9"/><polygon points="610.2,1135.9 641.02,1149.27 630.53,1162.65" fill="#000"/>
<line x1="622" y1="1226.1" x2="601.39" y2="1190.52" stroke="#000" stroke-width="1.9"/><polygon points="585.1,1162.4 608.75,1186.26 594.04,1194.78" fill="#000"/>
<line x1="1119.9" y1="1246.9" x2="1123.02" y2="1297.96" stroke="#000" stroke-width="1.9"/><polygon points="1125,1330.4 1114.53,1298.48 1131.5,1297.44" fill="#000"/>
<line x1="605.7" y1="1654.2" x2="598.32" y2="1640.85" stroke="#000" stroke-width="1.9"/><polygon points="582.6,1612.4 605.76,1636.73 590.88,1644.96" fill="#000"/>
</g>
<g stroke="#000" stroke-width="0.4">
<text transform="translate(484.71 172.6) scale(1 1.03)" font-size="42.6">=C-H</text>
<text transform="translate(349.35 400.9) scale(1 1.03)" font-size="42.6">OH</text>
<text transform="translate(345.89 458.5) scale(1 1.03)" font-size="42.6">NH<tspan dx="0.44" dy="23.2">2</tspan></text>
<text transform="translate(677.3 271.6) scale(1 1.03)" font-size="42.6">CH<tspan dx="-1.07" dy="23.3">2</tspan></text>
<text transform="translate(646.4 368.6) scale(1 1.03)" font-size="42.6">C-H</text>
<text transform="translate(1133.2 273.19) rotate(-90) scale(1 1.03)" font-size="42.6">-N=C</text>
<text transform="translate(1186.8 255.2) rotate(-90) scale(1 1.03)" font-size="42.6">C=C</text>
<text transform="translate(1322.8 494.3) scale(1 1.03)" font-size="42.6">C-O</text>
<text transform="translate(335.55 783.8) scale(1 1.03)" font-size="42.6">OH</text>
<text transform="translate(332.09 842) scale(1 1.03)" font-size="42.6">NH<tspan dx="-0.06" dy="22.04">2</tspan></text>
<text transform="translate(638.9 810.6) scale(1 1.03)" font-size="42.6">C-H</text>
<text transform="translate(1128.2 764.49) rotate(-90) scale(1 1.03)" font-size="42.6">-N=C</text>
<text transform="translate(1331.5 958.4) scale(1 1.03)" font-size="42.6">C-O</text>
<text transform="translate(346.35 1249.8) scale(1 1.03)" font-size="42.6">OH</text>
<text transform="translate(344.09 1307.7) scale(1 1.03)" font-size="42.6">NH<tspan dx="-1.46" dy="22.52">2</tspan></text>
<text transform="translate(677.3 1208) scale(1 1.03)" font-size="42.6">CH<tspan dx="-0.37" dy="23.2">2</tspan></text>
<text transform="translate(639.4 1266.8) scale(1 1.03)" font-size="42.6">C-H</text>
<text transform="translate(1133.2 1222.39) rotate(-90) scale(1 1.03)" font-size="42.6">-N=C</text>
<text transform="translate(1328.5 1426.8) scale(1 1.03)" font-size="42.6">C-O</text>
<text transform="translate(338.85 1731.8) scale(1 1.03)" font-size="42.6">OH</text>
<text transform="translate(335.39 1788.8) scale(1 1.03)" font-size="42.6">NH<tspan dx="-0.36" dy="23.5">2</tspan></text>
<text transform="translate(609.6 1689.8) scale(1 1.03)" font-size="42.6">C-H</text>
<text transform="translate(1086.8 1778.99) rotate(-90) scale(1 1.03)" font-size="42.6">-CO-NH<tspan dx="1.5" dy="22.72">2</tspan></text>
<text transform="translate(1311.45 1863.7) scale(1 1.03)" font-size="42.6">C-O</text>
<text transform="translate(188.51 500.9) scale(1 1.03)" font-size="67.6">D</text>
<text transform="translate(185.42 987.4) scale(1 1.03)" font-size="67.6">C</text>
<text transform="translate(183.51 1467.9) scale(1 1.03)" font-size="67.6">B</text>
<text transform="translate(187.55 1949.9) scale(1 1.03)" font-size="67.6">A</text>
<text transform="translate(169.48 2035.6) scale(1 1.01)" font-size="53.8" text-anchor="middle">4000</text>
<text transform="translate(362.66 2035.6) scale(1 1.01)" font-size="53.8" text-anchor="middle">3500</text>
<text transform="translate(555.84 2035.6) scale(1 1.01)" font-size="53.8" text-anchor="middle">3000</text>
<text transform="translate(749.01 2035.6) scale(1 1.01)" font-size="53.8" text-anchor="middle">2500</text>
<text transform="translate(942.19 2035.6) scale(1 1.01)" font-size="53.8" text-anchor="middle">2000</text>
<text transform="translate(1135.36 2035.6) scale(1 1.01)" font-size="53.8" text-anchor="middle">1500</text>
<text transform="translate(1328.54 2035.6) scale(1 1.01)" font-size="53.8" text-anchor="middle">1000</text>
<text transform="translate(1521.71 2035.6) scale(1 1.01)" font-size="53.8" text-anchor="middle">500</text>
<text x="567.91" y="2156" font-size="66.6">wave number (cm<tspan class="serif" font-size="41" stroke-width="0.3" x="1096.64" y="2126.23">−</tspan><tspan class="serif" font-size="41" stroke-width="0.3" x="1119.18" y="2123.3">1</tspan><tspan x="1140.53" y="2156">)</tspan></text>
<text transform="translate(83 1010.2) rotate(-90) scale(1 1.035)" font-size="66.5" letter-spacing="0.9">T (%)</text>
</g>
</svg></body></html>
